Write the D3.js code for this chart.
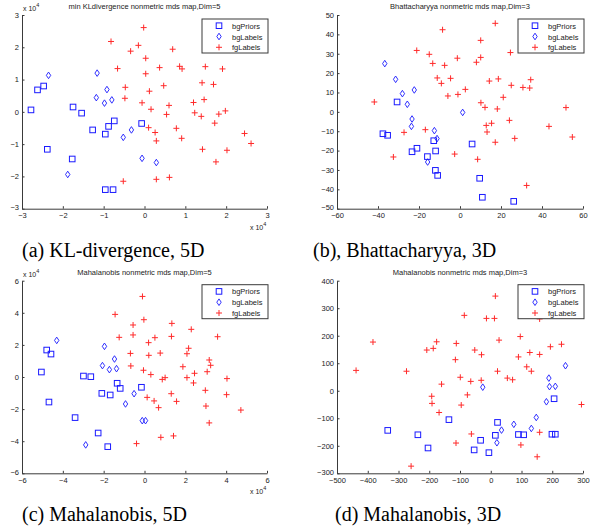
<!DOCTYPE html>
<html>
<head>
<meta charset="utf-8">
<script src="https://cdn.jsdelivr.net/npm/d3@7"></script>
<style>
  body { margin: 0; background: #fff; }
  svg text { font-family: "Liberation Sans", Arial, sans-serif; }
</style>
</head>
<body>
<svg width="605" height="529"></svg>
<script>
// (a) KL-divergence, 5D   (units of 1e4)
var aPriors = [[-2.78,0.06],[-2.62,0.68],[-2.47,0.80],[-2.38,-1.16],[-1.75,0.15],[-1.54,-0.04],[-1.77,-1.46],
  [-1.27,-0.56],[-0.96,-0.69],[-0.88,-0.45],[-0.74,-0.28],[-0.07,-0.36],[-0.96,-2.41],[-0.77,-2.41]];
var aBgLabels = [[-2.35,1.13],[-1.16,1.20],[-0.92,0.69],[-1.18,0.44],[-0.98,0.27],[-0.80,0.37],[-0.32,-0.56],
  [-0.52,-0.79],[-1.88,-1.94],[-0.06,-1.44],[0.29,-1.57]];
var aFgLabels = [[-0.02,2.61],[-0.82,2.18],[-0.15,2.06],[-0.34,1.88],[0.69,1.94],[0.03,1.66],[-0.66,1.34],
  [0.37,1.37],[0.03,1.18],[0.86,1.41],[0.92,1.33],[1.49,1.40],[1.91,1.33],[1.41,0.90],[1.69,0.85],[0.47,0.81],
  [-0.47,0.76],[0.12,0.64],[-0.48,0.42],[-0.06,0.28],[1.46,0.38],[1.20,0.29],[0.60,0.20],[0.16,0.08],[1.98,0.03],
  [1.23,-0.03],[0.54,-0.08],[1.39,-0.14],[1.82,-0.07],[1.72,-0.35],[0.10,-0.49],[0.78,-0.51],[0.26,-0.64],
  [0.91,-0.82],[0.29,-0.90],[2.45,-0.67],[2.61,-0.98],[1.42,-1.16],[2.02,-1.19],[1.75,-1.55],[-0.52,-2.15],
  [0.29,-2.09],[0.61,-2.03]];

// (b) Bhattacharyya, 3D
var bPriors = [[-30.7,5.1],[-37.6,-11.3],[-35.3,-12.1],[-23.4,-20.6],[-21.0,-18.8],[-15.9,-23.1],[-12.8,-14.9],
  [-11.9,-20.2],[-12.0,-30.2],[-10.9,-32.8],[5.9,-16.6],[9.6,-34.3],[10.9,-44.1],[26.2,-46.2]];
var bBgLabels = [[-36.7,24.9],[-31.4,16.8],[-28.1,9.4],[-22.3,11.3],[-25.7,3.9],[-23.4,-3.7],[-23.7,-7.5],
  [-12.5,-9.7],[-11.2,-13.8],[-15.8,-25.9],[1.3,-0.3]];
var bFgLabels = [[17.2,45.7],[-8.5,42.4],[10.1,36.9],[-21.1,31.7],[-15.0,29.7],[24.6,30.6],[-1.3,27.7],[10.1,28.1],
  [-13.3,25.0],[-7.5,24.0],[8.0,25.6],[-11.1,17.5],[-4.6,17.3],[-9.1,14.7],[14.3,15.9],[18.7,17.0],[34.5,16.6],
  [25.0,13.7],[30.7,12.6],[34.0,12.3],[2.6,11.6],[-41.8,5.1],[-5.9,8.2],[-1.0,9.0],[10.2,4.7],[21.1,7.5],
  [12.2,2.3],[18.2,1.5],[51.7,2.2],[-16.9,-9.2],[-27.3,-10.6],[15.4,-5.9],[12.8,-7.0],[24.1,-4.4],[13.2,-10.4],
  [43.4,-7.5],[26.7,-13.7],[54.8,-13.0],[17.2,-15.7],[-32.5,-23.3],[-2.6,-21.8],[8.6,-24.5],[32.5,-38.0]];

// (c) Mahalanobis, 5D   (units of 1e4)
var cPriors = [[-5.05,0.31],[-4.79,1.68],[-4.58,1.43],[-4.68,-1.56],[-3.40,-2.53],[-2.99,0.06],[-2.63,0.02],
  [-2.09,-1.02],[-1.68,-1.12],[-1.34,-0.39],[-1.19,-0.71],[-0.15,-0.64],[-2.27,-3.49],[-1.80,-4.34]];
var cBgLabels = [[-4.30,2.28],[-1.96,1.91],[-2.06,0.71],[-1.47,1.12],[-1.72,0.46],[-1.37,0.52],[-0.51,-1.04],
  [-0.93,-1.68],[-2.88,-4.23],[-0.11,-2.72],[0.05,-2.72]];
var cFgLabels = [[-0.10,5.02],[-1.44,3.90],[-0.03,3.57],[-0.56,3.24],[1.34,3.34],[2.29,2.97],[-0.56,2.62],
  [-1.24,2.47],[0.51,2.45],[1.32,2.53],[3.58,2.51],[0.20,2.14],[-0.69,1.47],[0.77,1.49],[2.16,1.79],[2.08,1.45],
  [0.21,1.35],[3.17,1.06],[3.24,0.73],[-0.67,0.69],[1.88,0.64],[-0.05,0.42],[3.07,0.33],[2.45,0.23],[0.31,0.15],
  [0.87,-0.15],[1.01,-0.04],[2.08,-0.04],[4.04,-0.10],[2.40,-0.37],[2.98,-0.83],[1.31,-1.04],[0.13,-1.27],
  [4.02,-1.10],[0.47,-1.49],[1.57,-1.52],[0.69,-1.91],[3.01,-1.81],[4.72,-2.06],[3.17,-2.86],[-0.39,-4.15],
  [0.80,-3.76],[1.42,-3.67]];

// (d) Mahalanobis, 3D
var dPriors = [[-335,-144],[-237,-160],[-204,-208],[-136,-105],[22,-115],[15,-162],[-33,-180],[-54,-215],
  [-6,-225],[90,-159],[107,-160],[199,-158],[210,-158],[206,-29]];
var dBgLabels = [[-26,13],[243,91],[189,46],[191,15],[210,16],[181,-40],[148,-97],[75,-122],[35,-143],
  [132,-137],[20,-189]];
var dFgLabels = [[15,344],[-86,274],[-14,263],[12,263],[159,261],[96,197],[27,184],[-176,178],[-383,177],
  [-112,172],[230,169],[194,160],[-208,148],[-187,154],[-52,148],[127,139],[159,132],[-30,131],[-115,113],
  [90,123],[117,87],[132,71],[-438,74],[-274,71],[22,71],[-99,49],[54,46],[71,40],[-31,38],[-65,34],[-160,24],
  [-76,-15],[-192,-20],[-191,-46],[-96,-52],[295,-50],[-168,-79],[-63,-157],[159,-151],[-113,-190],[98,-197],
  [151,-240],[-259,-274]];

var seriesNames = ["bgPriors", "bgLabels", "fgLabels"];

var titles = [
  "min KLdivergence  nonmetric mds map,Dim=5",
  "Bhattacharyya nonmetric mds map,Dim=3",
  "Mahalanobis nonmetric mds map,Dim=5",
  "Mahalanobis nonmetric mds map,Dim=3"
];
var captions = ["(a) KL-divergence, 5D", "(b), Bhattacharyya, 3D", "(c) Mahalanobis, 5D", "(d) Mahalanobis, 3D"];

var xTicks = [d3.range(-3, 3.1, 1), d3.range(-60, 61, 20), d3.range(-6, 6.1, 2), d3.range(-500, 301, 100)];
var yTicks = [d3.range(-3, 3.1, 1), d3.range(-50, 51, 10), d3.range(-6, 6.1, 2), d3.range(-300, 401, 100)];
var hasExponent = [true, false, true, false];

var panels = [
  {series: [aPriors, aBgLabels, aFgLabels], box: [22, 15, 267, 208.7], cap: [22, 257]},
  {series: [bPriors, bBgLabels, bFgLabels], box: [337, 15, 583, 208.7], cap: [313, 257]},
  {series: [cPriors, cBgLabels, cFgLabels], box: [22, 280.7, 267, 473.3], cap: [22, 521]},
  {series: [dPriors, dBgLabels, dFgLabels], box: [337, 280.7, 583, 473.3], cap: [335, 521]}
];

var svg = d3.select("svg");
var blue = "#1a1aff", red = "#ff2a2a", axisColor = "#3a3a3a";

function marker(sel, kind) {
  if (kind == 0) {
    sel.append("rect").attr("x", -2.8).attr("y", -2.8).attr("width", 5.6).attr("height", 5.6)
      .attr("fill", "none").attr("stroke", blue).attr("stroke-width", 1);
  } else if (kind == 1) {
    sel.append("path").attr("d", "M0,-3.3L2.2,0L0,3.3L-2.2,0Z")
      .attr("fill", "none").attr("stroke", blue).attr("stroke-width", 0.9);
  } else {
    sel.append("path").attr("d", "M-3,0H3M0,-3V3")
      .attr("fill", "none").attr("stroke", red).attr("stroke-width", 1);
  }
}

panels.forEach(function(p, i) {
  var b = p.box;
  var x = d3.scaleLinear().domain(d3.extent(xTicks[i])).range([b[0], b[2]]);
  var y = d3.scaleLinear().domain(d3.extent(yTicks[i])).range([b[3], b[1]]);
  var g = svg.append("g");

  var xAxis = g.append("g").attr("transform", "translate(0," + b[3] + ")")
    .call(d3.axisBottom(x).tickValues(xTicks[i]).tickSizeInner(-2.5).tickSizeOuter(0).tickPadding(4)
      .tickFormat(d3.format("d")));
  var yAxis = g.append("g").attr("transform", "translate(" + b[0] + ",0)")
    .call(d3.axisLeft(y).tickValues(yTicks[i]).tickSizeInner(-2.5).tickSizeOuter(0).tickPadding(3)
      .tickFormat(d3.format("d")));
  [xAxis, yAxis].forEach(function(ax) {
    ax.selectAll("path, line").attr("stroke", axisColor);
    ax.selectAll("text").attr("fill", "#222").style("font-size", "7.5px");
  });
  // nudge the lowest y label up a little so it clears the corner x label
  yAxis.selectAll(".tick").filter(function(d, j) { return j == 0; }).select("text").attr("dy", "0.1em");

  g.append("text").attr("x", (b[0] + b[2]) / 2).attr("y", b[1] - 6)
    .attr("text-anchor", "middle").style("font-size", "7.5px").attr("fill", "#222").text(titles[i]);

  if (hasExponent[i]) {
    var t1 = g.append("text").attr("x", b[0] + 1).attr("y", b[1] - 4).style("font-size", "7px").attr("fill", "#222");
    t1.append("tspan").text("x 10");
    t1.append("tspan").attr("dy", -4).style("font-size", "5.5px").text("4");
    var t2 = g.append("text").attr("x", b[2] - 17).attr("y", b[3] + 21).style("font-size", "7px").attr("fill", "#222");
    t2.append("tspan").text("x 10");
    t2.append("tspan").attr("dy", -4).style("font-size", "5.5px").text("4");
  }

  // points, fg drawn last like the original
  p.series.forEach(function(data, k) {
    g.append("g").selectAll("g").data(data).enter().append("g")
      .attr("transform", function(d) { return "translate(" + x(d[0]) + "," + y(d[1]) + ")"; })
      .each(function() { marker(d3.select(this), k); });
  });

  // legend
  var lx = b[2] - 65, ly = b[1] + 4;
  var leg = g.append("g").attr("transform", "translate(" + lx + "," + ly + ")");
  leg.append("rect").attr("width", 66).attr("height", 34).attr("fill", "#fff")
    .attr("stroke", axisColor).attr("stroke-width", 1);
  seriesNames.forEach(function(name, k) {
    var row = leg.append("g").attr("transform", "translate(0," + (6.7 + k * 10.8) + ")");
    marker(row.append("g").attr("transform", "translate(17,0)"), k);
    row.append("text").attr("x", 30).attr("y", 3).style("font-size", "7.5px").attr("fill", "#222").text(name);
  });

  svg.append("text").attr("x", p.cap[0]).attr("y", p.cap[1])
    .style("font-family", "'Liberation Serif', 'Times New Roman', serif").style("font-size", "20px")
    .attr("fill", "#000").text(captions[i]);
});
</script>
</body>
</html>
